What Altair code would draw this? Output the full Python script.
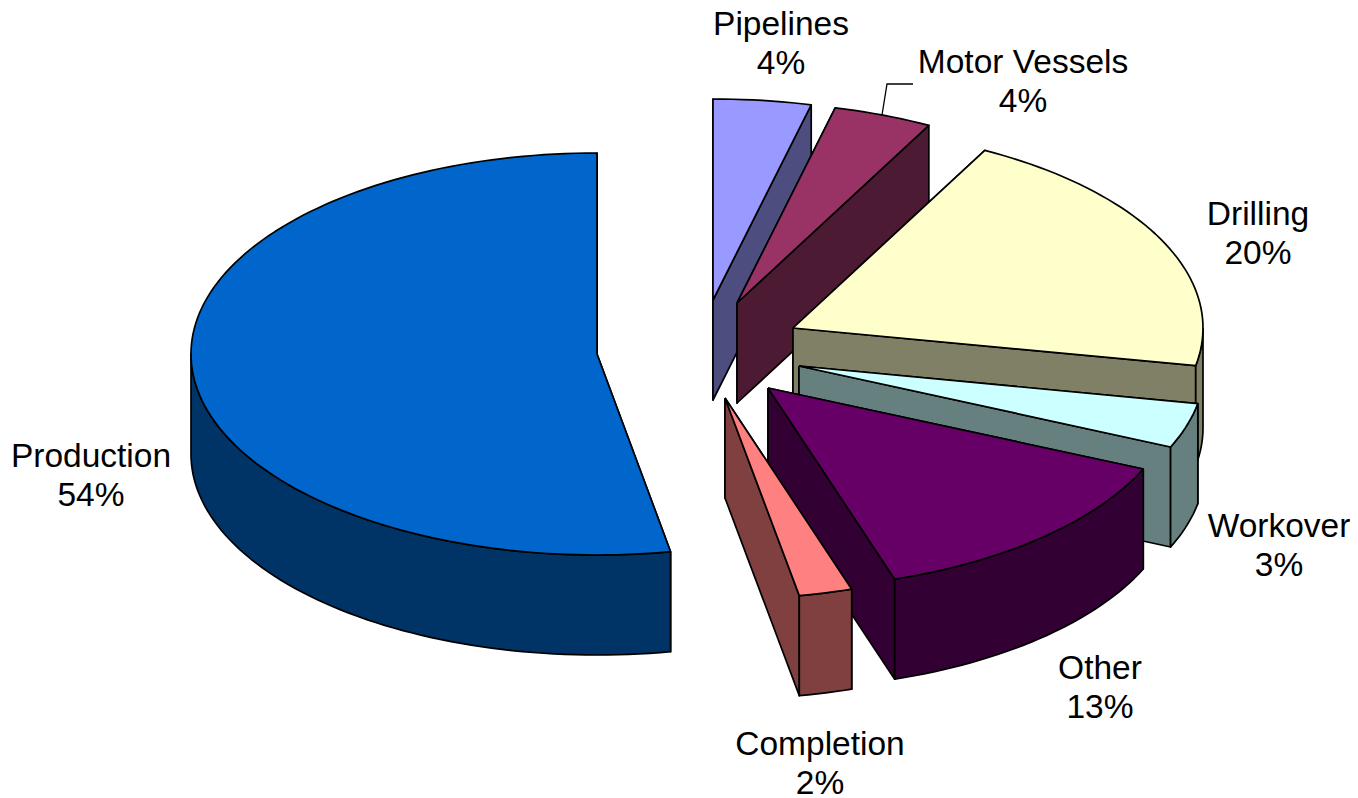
import math
import altair as alt
import pandas as pd

# Chart values, in pie order (clockwise from twelve o'clock)
categories = ["Pipelines", "Motor Vessels", "Drilling", "Workover", "Other", "Completion", "Production"]
percent_labels = ["4%", "4%", "20%", "3%", "13%", "2%", "54%"]
shares = [3.85, 3.9, 20.25, 3.6, 13.4, 2.1, 52.9]

# Styles and layout
top_colors = ["#9999FF", "#993366", "#FFFFCC", "#CCFFFF", "#660066", "#FF8080", "#0066CC"]
side_colors = ["#4D4D80", "#4D1A33", "#808066", "#668080", "#330033", "#804040", "#003366"]
center_x = [713, 737, 793, 799, 768, 725, 597]
center_y = [300, 303, 328, 366, 388, 398, 354]
radius_x = [410, 410, 410, 406, 410, 410, 406]
radius_y = 201
depth = 100
label_x = [781, 1023, 1258, 1279, 1100, 820, 91]
label_y = [24.5, 62.5, 214.5, 526.5, 668.5, 744.5, 456.5]
line_gap = 39.5
FONT = "Liberation Sans"
FONT_SIZE = 33.5

x_scale = alt.Scale(domain=[8, 1350], nice=False, zero=False)
y_scale = alt.Scale(domain=[798, 8], nice=False, zero=False)


def ring(i, a0, a1):
    """Arc points of slice i between two angles, in degrees clockwise from the top."""
    n = max(2, int(abs(a1 - a0) / 1.5) + 1)
    pts = []
    for k in range(n + 1):
        a = math.radians(a0 + (a1 - a0) * k / n)
        pts.append((center_x[i] + radius_x[i] * math.sin(a), center_y[i] - radius_y * math.cos(a)))
    return pts


def polygon_layer(points, fill):
    closed = list(points) + [points[0]]
    df = pd.DataFrame({"x": [p[0] for p in closed], "y": [p[1] for p in closed], "o": range(len(closed))})
    return (
        alt.Chart(df)
        .mark_line(fill=fill, stroke="black", strokeWidth=1.7, strokeJoin="round", clip=False)
        .encode(
            x=alt.X("x:Q", scale=x_scale, axis=None),
            y=alt.Y("y:Q", scale=y_scale, axis=None),
            order="o:Q",
        )
    )


layers = []
start = 0.0
for i in range(len(categories)):
    end = start + shares[i] * 3.6
    c = (center_x[i], center_y[i])
    arc = ring(i, start, end)
    down = lambda p: (p[0], p[1] + depth)
    for edge in (arc[0], arc[-1]):
        layers.append(polygon_layer([c, edge, down(edge), down(c)], side_colors[i]))
    # only the front half of the rim faces the viewer
    rim_from, rim_to = max(start, 90.0), min(end, 270.0)
    if rim_to > rim_from:
        rim = ring(i, rim_from, rim_to)
        layers.append(polygon_layer(rim + [down(p) for p in reversed(rim)], side_colors[i]))
    layers.append(polygon_layer([c] + arc, top_colors[i]))
    start = end

# Leader line of the Motor Vessels label
leader_df = pd.DataFrame({"x": [882, 887, 913], "y": [115, 84, 84], "o": [0, 1, 2]})
layers.append(
    alt.Chart(leader_df)
    .mark_line(stroke="black", strokeWidth=1.3)
    .encode(x=alt.X("x:Q", scale=x_scale, axis=None), y=alt.Y("y:Q", scale=y_scale, axis=None), order="o:Q")
)

label_rows = []
for i in range(len(categories)):
    label_rows.append({"x": label_x[i], "y": label_y[i], "t": categories[i]})
    label_rows.append({"x": label_x[i], "y": label_y[i] + line_gap, "t": percent_labels[i]})
layers.append(
    alt.Chart(pd.DataFrame(label_rows))
    .mark_text(font=FONT, fontSize=FONT_SIZE, color="black", align="center", baseline="middle")
    .encode(x=alt.X("x:Q", scale=x_scale, axis=None), y=alt.Y("y:Q", scale=y_scale, axis=None), text="t:N")
)

chart = (
    alt.layer(*layers)
    .properties(
        width=1342,
        height=790,
        padding=0,
        background="white",
        autosize=alt.AutoSizeParams(type="none"),
    )
    .configure_view(stroke=None)
)
chart.save("out.html", embed_options={"renderer": "svg", "actions": False})
